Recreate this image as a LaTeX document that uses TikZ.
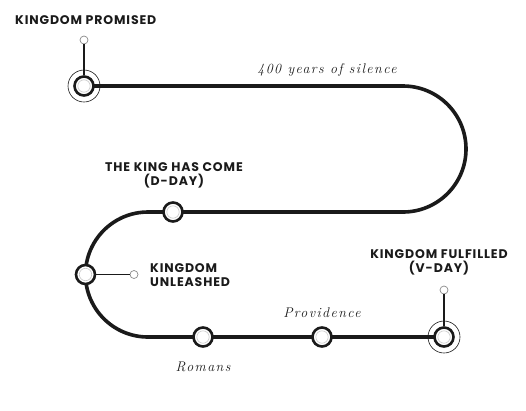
\documentclass[tikz,border=0pt]{standalone}
\usepackage{fontspec}
\usepackage{tikz}
\usetikzlibrary{positioning}
\newfontfamily\tlLabel[LetterSpace=7]{Poppins}
\newfontfamily\tlNote[LetterSpace=10]{Latin Modern Roman}
\definecolor{TlInk}{HTML}{1A1A1A}
\definecolor{TlGrey}{HTML}{C8C8C8}
\definecolor{TlStub}{HTML}{8A8A8A}

\begin{document}
\begin{tikzpicture}[x=1pt,y=1pt,
        track/.style={line width=3.6pt,TlInk,line join=round},
        stub/.style={line width=1.8pt,TlInk,shorten <=-0.5pt},
        station/.style={circle,draw=TlInk,line width=2.6pt,fill=white,minimum size=19pt,inner sep=0pt,
          path picture={\draw[TlGrey,line width=0.6pt] (path picture bounding box.center) circle (6.2pt);}},
        ring/.style={draw=TlInk,line width=0.6pt},
        stop/.style={circle,draw=TlStub,line width=0.7pt,fill=white,minimum size=8pt,inner sep=0pt},
        milestone/.style={font=\tlLabel\bfseries\fontsize{12.5}{14}\selectfont,TlInk,align=center,inner sep=0pt},
        era/.style={font=\tlNote\itshape\fontsize{14}{16}\selectfont,TlInk,inner sep=0pt}
      ]
        \useasboundingbox (0,0) rectangle (526,-410);
        \draw[track] (84,-86) -- (403,-86) arc (90:-90:63) -- (148,-212) arc (90:270:62.5) -- (444,-337);
        \node[station] (promised) at (84,-86) {};
        \node[station] (come) at (173,-212) {};
        \node[station] (unleashed) at (85.5,-274.5) {};
        \node[station] (romans) at (203,-337) {};
        \node[station] (providence) at (322,-337) {};
        \node[station] (fulfilled) at (444,-337) {};
        \draw[ring] (promised.center) circle (16pt);
        \draw[ring] (fulfilled.center) circle (16pt);
        \node[stop] (promisedTop) at (84,-40) {};
        \node[stop] (unleashedEnd) at (134,-274.5) {};
        \node[stop] (fulfilledTop) at (444,-290) {};
        \draw[stub] (promisedTop) -- (promised);
        \draw[stub] (unleashedEnd) -- (unleashed);
        \draw[stub] (fulfilledTop) -- (fulfilled);
        \node[milestone,anchor=west] (promisedText) at (15,-20) {KINGDOM PROMISED};
        \node[milestone] (comeText) at (174,-175) {THE KING HAS COME\\(D-DAY)};
        \node[milestone,anchor=west,align=left] (unleashedText) at (150,-275) {KINGDOM\\UNLEASHED};
        \node[milestone] (fulfilledText) at (439,-262) {KINGDOM FULFILLED\\(V-DAY)};
        \node[era] (silence) at (327,-70) {400 years of silence};
        \node[era] (romansText) at (203,-367) {Romans};
        \node[era] (providenceText) at (322,-313) {Providence};
      \end{tikzpicture}
\end{document}
